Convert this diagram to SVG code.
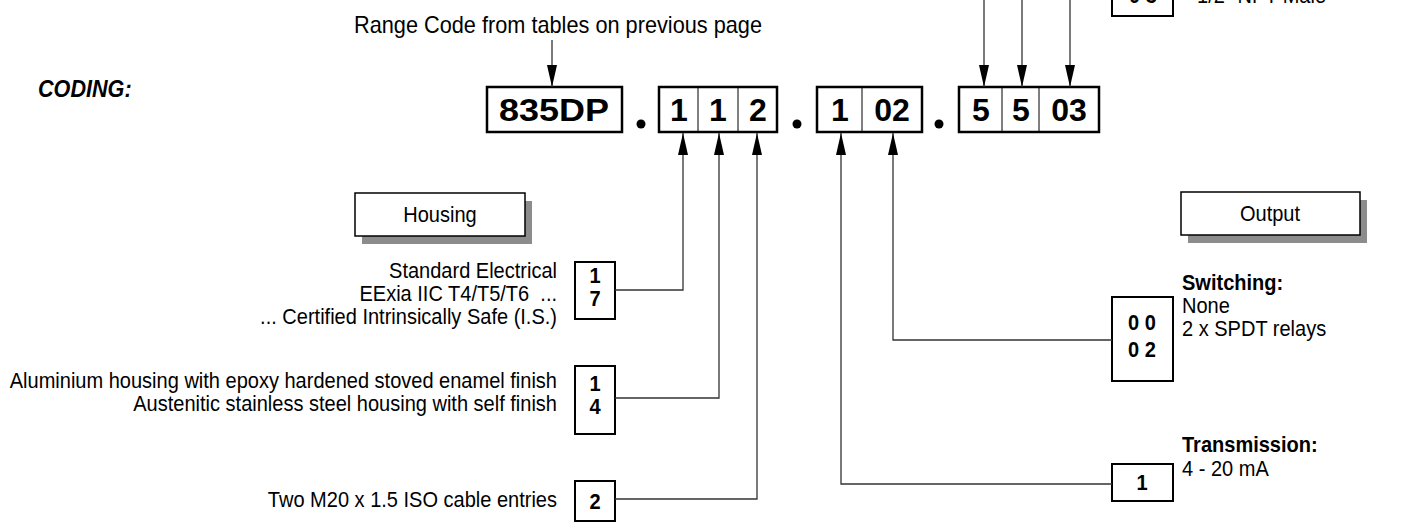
<svg xmlns="http://www.w3.org/2000/svg" width="1406" height="523" viewBox="0 0 1406 523">
<style>
text{font-family:"Liberation Sans",Arial,sans-serif;fill:#000}
.t{font-size:22.5px}
.b{font-size:22.5px;font-weight:bold}
.code{font-size:32px;font-weight:bold;text-anchor:middle}
.box{fill:#fff;stroke:#000;stroke-width:2}
.cbox{fill:#fff;stroke:#000;stroke-width:2.5}
.div{stroke:#000;stroke-width:1}
.shadow{fill:#8c8c8c}
.hdr{fill:#fff;stroke:#000;stroke-width:1.5}
.conn{fill:none;stroke:#333;stroke-width:1.3}
.end{text-anchor:end}
.mid{text-anchor:middle}
</style>
<defs>
<marker id="ah" markerUnits="userSpaceOnUse" markerWidth="24" markerHeight="12" refX="22" refY="5" orient="auto">
<path d="M0,0 L22,5 L0,10 z" fill="#000"/>
</marker>
</defs>
<rect width="1406" height="523" fill="#fff"/>

<g id="title">
<text x="354" y="33" style="font-size:24px" textLength="408" lengthAdjust="spacingAndGlyphs">Range Code from tables on previous page</text>
<text transform="translate(38 97) scale(0.9 1)" style="font-size:24px;font-weight:bold;font-style:italic">CODING:</text>
</g>

<g id="code-range">
<rect class="cbox" x="487" y="87" width="135" height="45"/>
<text class="code" x="554" y="121" textLength="110" lengthAdjust="spacingAndGlyphs">835DP</text>
</g>
<g id="dots">
<circle cx="641" cy="124" r="4.5"/>
<circle cx="797" cy="124" r="4.5"/>
<circle cx="939" cy="124" r="4.5"/>
</g>
<g id="code-housing">
<rect class="cbox" x="659" y="87" width="118" height="45"/>
<line class="div" x1="698" y1="87" x2="698" y2="132"/>
<line class="div" x1="738" y1="87" x2="738" y2="132"/>
<text class="code" x="679" y="121">1</text>
<text class="code" x="718" y="121">1</text>
<text class="code" x="758" y="121">2</text>
</g>
<g id="code-output">
<rect class="cbox" x="817" y="87" width="105" height="45"/>
<line class="div" x1="862" y1="87" x2="862" y2="132"/>
<text class="code" x="840" y="121">1</text>
<text class="code" x="892" y="121">02</text>
</g>
<g id="code-process">
<rect class="cbox" x="959" y="87" width="140" height="45"/>
<line class="div" x1="1002" y1="87" x2="1002" y2="132"/>
<line class="div" x1="1039" y1="87" x2="1039" y2="132"/>
<text class="code" x="981" y="121">5</text>
<text class="code" x="1021" y="121">5</text>
<text class="code" x="1069" y="121">03</text>
</g>

<g id="top-partial">
<rect class="box" x="1112" y="-30" width="61" height="46"/>
<text class="b mid" transform="translate(1143 3) scale(0.89 1)">0 3</text>
<text class="t" transform="translate(1197 3) scale(0.89 1)">1/2" NPT Male</text>
</g>

<g id="housing-header">
<rect class="shadow" x="362" y="201" width="170" height="43"/>
<rect class="hdr" x="355" y="193" width="170" height="43"/>
<text class="t mid" transform="translate(440 222) scale(0.89 1)">Housing</text>
</g>
<g id="output-header">
<rect class="shadow" x="1188" y="200" width="179" height="43"/>
<rect class="hdr" x="1181" y="192" width="179" height="43"/>
<text class="t mid" transform="translate(1270 221) scale(0.89 1)">Output</text>
</g>

<g id="opt-certification">
<text class="t end" transform="translate(557 278) scale(0.89 1)">Standard Electrical</text>
<text class="t end" transform="translate(557 301) scale(0.89 1)" xml:space="preserve">EExia IIC T4/T5/T6  ...</text>
<text class="t end" transform="translate(557 324) scale(0.89 1)">... Certified Intrinsically Safe (I.S.)</text>
<rect class="box" x="575" y="262" width="40" height="57"/>
<text class="b mid" transform="translate(595 283) scale(0.89 1)">1</text>
<text class="b mid" transform="translate(595 306) scale(0.89 1)">7</text>
</g>
<g id="opt-material">
<text class="t end" transform="translate(557 388) scale(0.89 1)">Aluminium housing with epoxy hardened stoved enamel finish</text>
<text class="t end" transform="translate(557 411) scale(0.89 1)">Austenitic stainless steel housing with self finish</text>
<rect class="box" x="575" y="366" width="40" height="68"/>
<text class="b mid" transform="translate(595 391) scale(0.89 1)">1</text>
<text class="b mid" transform="translate(595 414) scale(0.89 1)">4</text>
</g>
<g id="opt-entries">
<text class="t end" transform="translate(557 507) scale(0.89 1)">Two M20 x 1.5 ISO cable entries</text>
<rect class="box" x="575" y="481" width="40" height="40"/>
<text class="b mid" transform="translate(595 509) scale(0.89 1)">2</text>
</g>
<g id="opt-switching">
<text class="b" transform="translate(1182 290) scale(0.89 1)">Switching:</text>
<text class="t" transform="translate(1182 313) scale(0.89 1)">None</text>
<text class="t" transform="translate(1182 336) scale(0.89 1)">2 x SPDT relays</text>
<rect class="box" x="1112" y="297" width="61" height="84"/>
<text class="b mid" transform="translate(1142 330) scale(0.89 1)">0 0</text>
<text class="b mid" transform="translate(1142 357) scale(0.89 1)">0 2</text>
</g>
<g id="opt-transmission">
<text class="b" transform="translate(1182 452) scale(0.89 1)">Transmission:</text>
<text class="t" transform="translate(1182 476) scale(0.89 1)">4 - 20 mA</text>
<rect class="box" x="1112" y="464" width="61" height="37"/>
<text class="b mid" transform="translate(1142 490) scale(0.89 1)">1</text>
</g>

<g id="connectors">
<path class="conn" d="M552,40 V87" marker-end="url(#ah)"/>
<path class="conn" d="M984,0 V87" marker-end="url(#ah)"/>
<path class="conn" d="M1022,0 V87" marker-end="url(#ah)"/>
<path class="conn" d="M1070,0 V87" marker-end="url(#ah)"/>
<path class="conn" d="M615,290 H683 V133" marker-end="url(#ah)"/>
<path class="conn" d="M615,398 H719 V133" marker-end="url(#ah)"/>
<path class="conn" d="M615,499 H757 V133" marker-end="url(#ah)"/>
<path class="conn" d="M1112,340 H893 V133" marker-end="url(#ah)"/>
<path class="conn" d="M1112,484 H841 V133" marker-end="url(#ah)"/>
</g>
</svg>
